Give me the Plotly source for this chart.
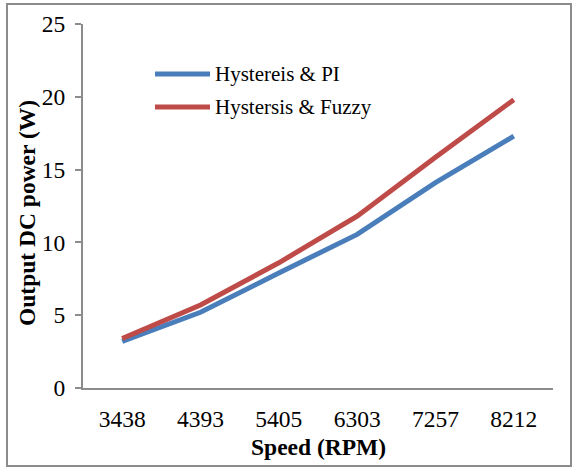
import plotly.graph_objects as go

speeds = ["3438", "4393", "5405", "6303", "7257", "8212"]
pi_power = [3.2, 5.2, 7.9, 10.55, 14.1, 17.3]
fuzzy_power = [3.4, 5.7, 8.6, 11.8, 15.85, 19.8]
series_names = ["Hystereis & PI", "Hystersis & Fuzzy"]
series_colors = ["#4A7EBB", "#BE4B48"]

W, H = 574, 468
L, R, T, B = 83, 21, 24, 80
pw, ph = W - L - R, H - T - B

def px(x):
    return (x - L) / pw

def py(y):
    return (H - B - y) / ph

FONT = "Liberation Serif, Times New Roman, serif"

fig = go.Figure()
for name, vals, col in zip(series_names, [pi_power, fuzzy_power], series_colors):
    fig.add_trace(go.Scatter(x=speeds, y=vals, mode="lines", name=name,
                             line=dict(color=col, width=5), showlegend=False))

shapes = [dict(type="rect", xref="paper", yref="paper",
               x0=px(7), x1=px(571), y0=py(466), y1=py(4),
               line=dict(color="#8C8C8C", width=2), layer="below")]
annotations = []
for i, (name, col) in enumerate(zip(series_names, series_colors)):
    yy = 74 + i * 33
    shapes.append(dict(type="line", xref="paper", yref="paper",
                       x0=px(155), x1=px(210), y0=py(yy), y1=py(yy),
                       line=dict(color=col, width=5)))
    annotations.append(dict(xref="paper", yref="paper", x=px(213), y=py(yy),
                            xanchor="left", yanchor="middle", showarrow=False,
                            text=name, font=dict(family=FONT, size=21, color="black")))

annotations.append(dict(xref="paper", yref="paper", x=px(318), y=py(447),
                        xanchor="center", yanchor="middle", showarrow=False,
                        text="<b>Speed (RPM)</b>", font=dict(family=FONT, size=23.5, color="black")))
annotations.append(dict(xref="paper", yref="paper", x=px(27), y=py(213),
                        xanchor="center", yanchor="middle", showarrow=False, textangle=-90,
                        text="<b>Output DC power (W)</b>", font=dict(family=FONT, size=23.5, color="black")))

fig.update_layout(
    width=W, height=H,
    margin=dict(l=L, r=R, t=T, b=B),
    paper_bgcolor="white", plot_bgcolor="white",
    font=dict(family=FONT, size=23, color="black"),
    shapes=shapes, annotations=annotations,
    xaxis=dict(type="category", range=[-0.5, 5.5], showgrid=False, zeroline=False,
               showline=True, linecolor="#8C8C8C", linewidth=2, ticks="",
               ticklabelstandoff=9, tickfont=dict(family=FONT, size=23.5, color="black")),
    yaxis=dict(range=[0, 25], dtick=5, showgrid=False, zeroline=False,
               showline=True, linecolor="#8C8C8C", linewidth=2, ticks="outside",
               ticklen=6, tickcolor="#8C8C8C", tickwidth=2, ticklabelstandoff=5,
               tickfont=dict(family=FONT, size=23.5, color="black")),
)

fig.write_html("out.html")
